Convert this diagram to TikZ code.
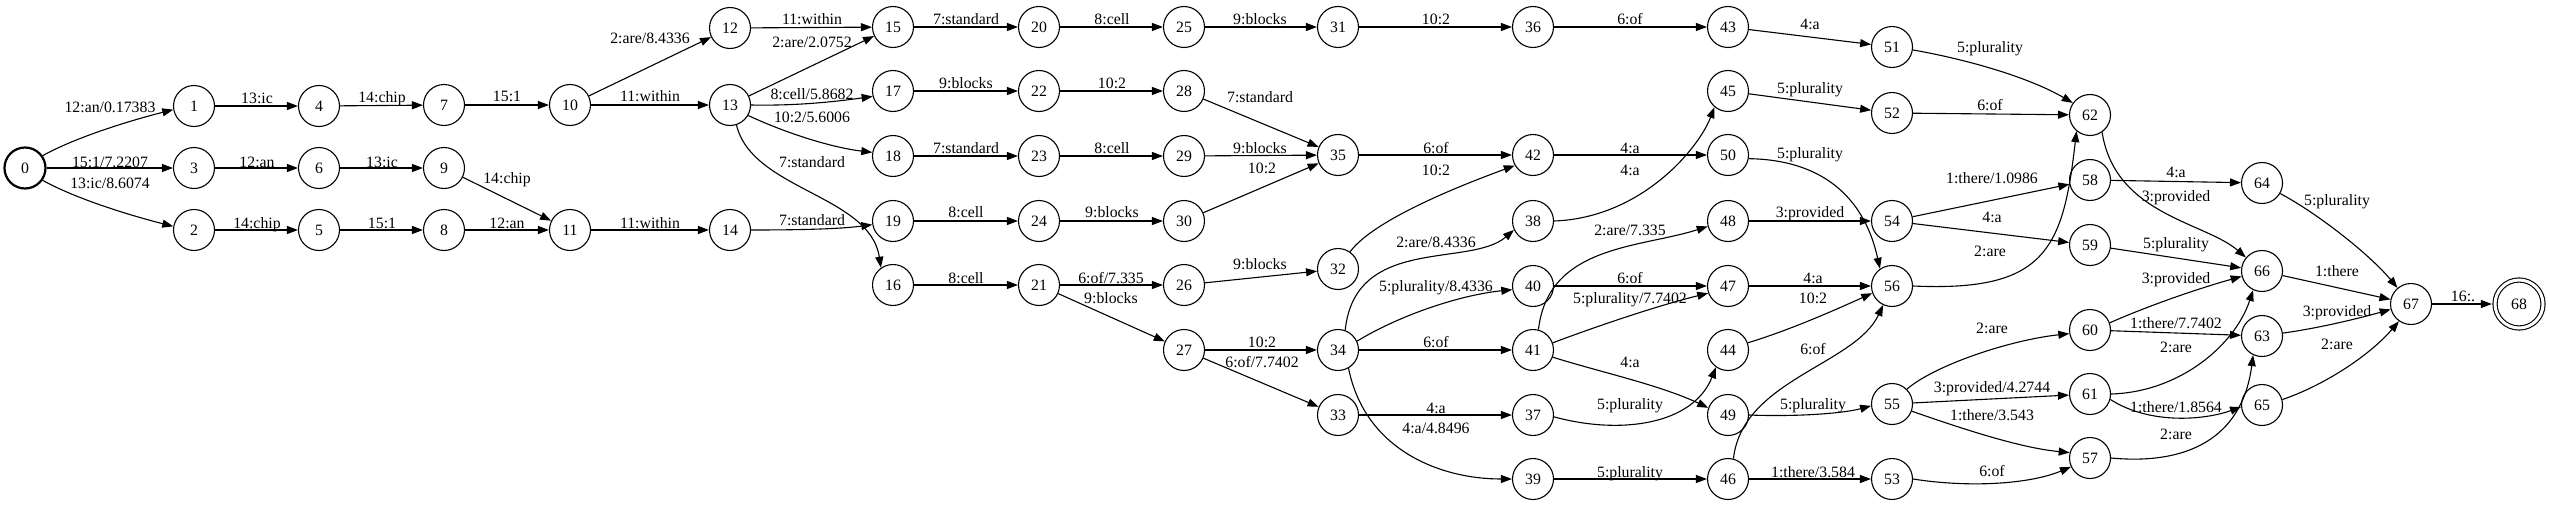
\documentclass[tikz,border=0pt]{standalone}
\usepackage{fontspec}
\setmainfont{Liberation Serif}
\usetikzlibrary{arrows.meta}
\newcommand{\gfont}{\fontsize{15.8}{18}\selectfont}
\tikzset{
 st/.style={circle, draw, line width=1.1pt, minimum size=41pt, inner sep=0pt, font=\gfont},
 edg/.style={draw, line width=1.1pt, -{Triangle[length=11pt,width=8pt]}},
 lab/.style={font=\gfont, inner sep=0pt, text height=10.7pt, text depth=0pt}
}
\begin{document}
\begin{tikzpicture}[x=1pt,y=-1pt]
\useasboundingbox (0,0) rectangle (2550,506);
% nodes
\node[st, line width=2.2pt] (n0) at (25,168) {0};
\node[st] (n1) at (194,106) {1};
\node[st] (n3) at (194,168) {3};
\node[st] (n2) at (194,230) {2};
\node[st] (n4) at (319,106) {4};
\node[st] (n6) at (319,168) {6};
\node[st] (n5) at (319,230) {5};
\node[st] (n7) at (444,105) {7};
\node[st] (n9) at (444,168) {9};
\node[st] (n8) at (444,230) {8};
\node[st] (n10) at (570,105) {10};
\node[st] (n11) at (570,230) {11};
\node[st] (n12) at (730,28) {12};
\node[st] (n13) at (730,105) {13};
\node[st] (n14) at (730,230) {14};
\node[st] (n15) at (893,27) {15};
\node[st] (n17) at (893,91) {17};
\node[st] (n18) at (893,156) {18};
\node[st] (n19) at (893,221) {19};
\node[st] (n16) at (893,285) {16};
\node[st] (n20) at (1039,27) {20};
\node[st] (n22) at (1039,91) {22};
\node[st] (n23) at (1039,156) {23};
\node[st] (n24) at (1039,221) {24};
\node[st] (n21) at (1039,285) {21};
\node[st] (n25) at (1184,27) {25};
\node[st] (n28) at (1184,91) {28};
\node[st] (n29) at (1184,156) {29};
\node[st] (n30) at (1184,221) {30};
\node[st] (n26) at (1184,285) {26};
\node[st] (n27) at (1184,350) {27};
\node[st] (n31) at (1338,27) {31};
\node[st] (n35) at (1338,155) {35};
\node[st] (n32) at (1338,269) {32};
\node[st] (n34) at (1338,350) {34};
\node[st] (n33) at (1338,415) {33};
\node[st] (n36) at (1533,27) {36};
\node[st] (n42) at (1533,155) {42};
\node[st] (n38) at (1533,221) {38};
\node[st] (n40) at (1533,286) {40};
\node[st] (n41) at (1533,350) {41};
\node[st] (n37) at (1533,415) {37};
\node[st] (n39) at (1533,479) {39};
\node[st] (n43) at (1728,27) {43};
\node[st] (n45) at (1728,91) {45};
\node[st] (n50) at (1728,155) {50};
\node[st] (n48) at (1728,221) {48};
\node[st] (n47) at (1728,286) {47};
\node[st] (n44) at (1728,350) {44};
\node[st] (n49) at (1728,415) {49};
\node[st] (n46) at (1728,479) {46};
\node[st] (n51) at (1892,47) {51};
\node[st] (n52) at (1892,113) {52};
\node[st] (n54) at (1892,221) {54};
\node[st] (n56) at (1892,286) {56};
\node[st] (n55) at (1892,404) {55};
\node[st] (n53) at (1892,479) {53};
\node[st] (n62) at (2090,115) {62};
\node[st] (n58) at (2090,180) {58};
\node[st] (n59) at (2090,245) {59};
\node[st] (n60) at (2090,330) {60};
\node[st] (n61) at (2090,394) {61};
\node[st] (n57) at (2090,458) {57};
\node[st] (n64) at (2262,183) {64};
\node[st] (n66) at (2262,271) {66};
\node[st] (n63) at (2262,336) {63};
\node[st] (n65) at (2262,405) {65};
\node[st] (n67) at (2411,304) {67};
\node[st, double, double distance=3pt, minimum size=48pt] (n68) at (2519,304) {68};
% edges
\draw[edg] (n0.35) .. controls (80,135) and (140,118) .. (n1.190) node[lab] at (110,107) {12:an/0.17383};
\draw[edg] (n0) -- (n3) node[lab] at (110,162) {15:1/7.2207};
\draw[edg] (n0.-35) .. controls (80,201) and (140,218) .. (n2.170) node[lab] at (110,183) {13:ic/8.6074};
\draw[edg] (n1) -- (n4) node[lab] at (257,98) {13:ic};
\draw[edg] (n4) -- (n7) node[lab] at (382,97) {14:chip};
\draw[edg] (n3) -- (n6) node[lab] at (257,162) {12:an};
\draw[edg] (n6) -- (n9) node[lab] at (382,162) {13:ic};
\draw[edg] (n2) -- (n5) node[lab] at (257,223) {14:chip};
\draw[edg] (n5) -- (n8) node[lab] at (382,223) {15:1};
\draw[edg] (n7) -- (n10) node[lab] at (507,96) {15:1};
\draw[edg] (n9) -- (n11) node[lab] at (507,178) {14:chip};
\draw[edg] (n8) -- (n11) node[lab] at (507,223) {12:an};
\draw[edg] (n10) -- (n12) node[lab] at (650,38) {2:are/8.4336};
\draw[edg] (n10) -- (n13) node[lab] at (650,96) {11:within};
\draw[edg] (n11) -- (n14) node[lab] at (650,223) {11:within};
\draw[edg] (n12) -- (n15) node[lab] at (812,19) {11:within};
\draw[edg] (n13) -- (n15) node[lab] at (812,42) {2:are/2.0752};
\draw[edg] (n13.east) .. controls (800,106) and (840,101) .. (n17.195) node[lab] at (812,94) {8:cell/5.8682};
\draw[edg] (n13.-30) .. controls (790,135) and (835,148) .. (n18.170) node[lab] at (812,117) {10:2/5.6006};
\draw[edg] (n13.-72) .. controls (752,190) and (870,195) .. (n16.125) node[lab] at (812,162) {7:standard};
\draw[edg] (n14.east) .. controls (800,230) and (840,229) .. (n19.190) node[lab] at (812,220) {7:standard};
\draw[edg] (n15) -- (n20) node[lab] at (966,19) {7:standard};
\draw[edg] (n20) -- (n25) node[lab] at (1112,19) {8:cell};
\draw[edg] (n25) -- (n31) node[lab] at (1260,19) {9:blocks};
\draw[edg] (n17) -- (n22) node[lab] at (966,83) {9:blocks};
\draw[edg] (n22) -- (n28) node[lab] at (1112,83) {10:2};
\draw[edg] (n28) -- (n35) node[lab] at (1260,97) {7:standard};
\draw[edg] (n18) -- (n23) node[lab] at (966,148) {7:standard};
\draw[edg] (n23) -- (n29) node[lab] at (1112,148) {8:cell};
\draw[edg] (n29) -- (n35) node[lab] at (1260,148) {9:blocks};
\draw[edg] (n30) -- (n35) node[lab] at (1262,168) {10:2};
\draw[edg] (n19) -- (n24) node[lab] at (966,212) {8:cell};
\draw[edg] (n24) -- (n30) node[lab] at (1112,212) {9:blocks};
\draw[edg] (n16) -- (n21) node[lab] at (966,278) {8:cell};
\draw[edg] (n21) -- (n26) node[lab] at (1111,278) {6:of/7.335};
\draw[edg] (n21) -- (n27) node[lab] at (1111,298) {9:blocks};
\draw[edg] (n26) -- (n32) node[lab] at (1260,264) {9:blocks};
\draw[edg] (n27) -- (n34) node[lab] at (1262,342) {10:2};
\draw[edg] (n27) -- (n33) node[lab] at (1262,362) {6:of/7.7402};
\draw[edg] (n31) -- (n36) node[lab] at (1436,19) {10:2};
\draw[edg] (n36) -- (n43) node[lab] at (1630,19) {6:of};
\draw[edg] (n35) -- (n42) node[lab] at (1436,148) {6:of};
\draw[edg] (n32.55) .. controls (1375,218) and (1470,182) .. (n42.210) node[lab] at (1436,170) {10:2};
\draw[edg] (n42) -- (n50) node[lab] at (1630,148) {4:a};
\draw[edg] (n38.east) .. controls (1640,218) and (1698,150) .. (n45.230) node[lab] at (1630,170) {4:a};
\draw[edg] (n34.70) .. controls (1355,235) and (1470,268) .. (n38.205) node[lab] at (1436,242) {2:are/8.4336};
\draw[edg] (n34.25) .. controls (1400,315) and (1460,295) .. (n40.190) node[lab] at (1436,286) {5:plurality/8.4336};
\draw[edg] (n34) -- (n41) node[lab] at (1436,342) {6:of};
\draw[edg] (n33) -- (n37) node[lab] at (1436,408) {4:a};
\draw[edg] (n34.-60) .. controls (1365,450) and (1440,479) .. (n39.west) node[lab] at (1436,428) {4:a/4.8496};
\draw[edg] (n41.75) .. controls (1548,245) and (1640,248) .. (n48.195) node[lab] at (1630,230) {2:are/7.335};
\draw[edg] (n40) -- (n47) node[lab] at (1630,278) {6:of};
\draw[edg] (n41.20) .. controls (1600,325) and (1660,305) .. (n47.200) node[lab] at (1630,298) {5:plurality/7.7402};
\draw[edg] (n41.-20) .. controls (1600,372) and (1660,385) .. (n49.160) node[lab] at (1630,362) {4:a};
\draw[edg] (n37.-5) .. controls (1620,435) and (1693,425) .. (n44.235) node[lab] at (1630,404) {5:plurality};
\draw[edg] (n39) -- (n46) node[lab] at (1630,472) {5:plurality};
\draw[edg] (n43) -- (n51) node[lab] at (1810,24) {4:a};
\draw[edg] (n51.-8) .. controls (1970,60) and (2030,78) .. (n62.145) node[lab] at (1990,47) {5:plurality};
\draw[edg] (n45) -- (n52) node[lab] at (1810,88) {5:plurality};
\draw[edg] (n52) -- (n62) node[lab] at (1990,105) {6:of};
\draw[edg] (n50.-10) .. controls (1830,160) and (1866,205) .. (n56.125) node[lab] at (1810,153) {5:plurality};
\draw[edg] (n48) -- (n54) node[lab] at (1810,212) {3:provided};
\draw[edg] (n54) -- (n58) node[lab] at (1992,178) {1:there/1.0986};
\draw[edg] (n54) -- (n59) node[lab] at (1992,217) {4:a};
\draw[edg] (n56.east) .. controls (2045,292) and (2063,250) .. (n62.230) node[lab] at (1990,251) {2:are};
\draw[edg] (n47) -- (n56) node[lab] at (1813,278) {4:a};
\draw[edg] (n44.20) .. controls (1790,330) and (1835,310) .. (n56.200) node[lab] at (1813,298) {10:2};
\draw[edg] (n46.75) .. controls (1742,380) and (1855,365) .. (n56.245) node[lab] at (1813,349) {6:of};
\draw[edg] (n49.east) .. controls (1800,417) and (1845,413) .. (n55.185) node[lab] at (1813,404) {5:plurality};
\draw[edg] (n46) -- (n53) node[lab] at (1813,472) {1:there/3.584};
\draw[edg] (n55.45) .. controls (1935,365) and (2010,340) .. (n60.190) node[lab] at (1992,328) {2:are};
\draw[edg] (n55) -- (n61) node[lab] at (1992,387) {3:provided/4.2744};
\draw[edg] (n55.-20) .. controls (1960,428) and (2020,448) .. (n57.165) node[lab] at (1992,415) {1:there/3.543};
\draw[edg] (n53.east) .. controls (1970,488) and (2030,484) .. (n57.205) node[lab] at (1992,471) {6:of};
\draw[edg] (n62.-55) .. controls (2115,215) and (2205,222) .. (n66.140) node[lab] at (2176,196) {3:provided};
\draw[edg] (n58) -- (n64) node[lab] at (2176,172) {4:a};
\draw[edg] (n59) -- (n66) node[lab] at (2176,243) {5:plurality};
\draw[edg] (n60.20) .. controls (2150,305) and (2200,288) .. (n66.195) node[lab] at (2176,278) {3:provided};
\draw[edg] (n60) -- (n63) node[lab] at (2176,323) {1:there/7.7402};
\draw[edg] (n61.east) .. controls (2180,392) and (2235,345) .. (n66.245) node[lab] at (2176,347) {2:are};
\draw[edg] (n61.-15) .. controls (2150,425) and (2205,420) .. (n65.185) node[lab] at (2176,407) {1:there/1.8564};
\draw[edg] (n57.east) .. controls (2185,465) and (2242,440) .. (n63.245) node[lab] at (2176,434) {2:are};
\draw[edg] (n64.-30) .. controls (2320,215) and (2370,255) .. (n67.130) node[lab] at (2337,200) {5:plurality};
\draw[edg] (n66) -- (n67) node[lab] at (2337,271) {1:there};
\draw[edg] (n63.8) .. controls (2320,328) and (2360,318) .. (n67.195) node[lab] at (2337,311) {3:provided};
\draw[edg] (n65.15) .. controls (2325,385) and (2370,355) .. (n67.235) node[lab] at (2337,344) {2:are};
\draw[edg, shorten >=2.6pt] (n67) -- (n68) node[lab] at (2463,296) {16:.};
\end{tikzpicture}
\end{document}
